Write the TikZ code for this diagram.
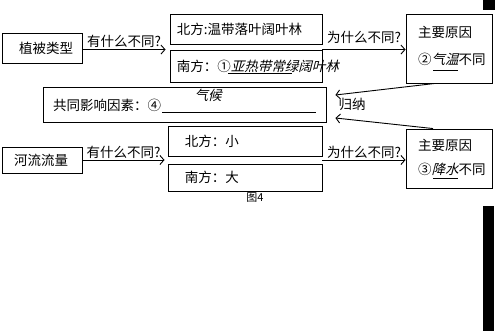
\documentclass[tikz,border=0pt]{standalone}
\usepackage{fontspec}
\setmainfont{Noto Sans CJK SC}
\newfontfamily\slfont[FakeSlant=0.25]{Noto Sans CJK SC}
\usetikzlibrary{arrows.meta,calc}
\begin{document}
\begin{tikzpicture}[x=1pt,y=-1pt,>={Straight Barb[length=4pt,width=9pt]},
  box/.style={draw,line width=0.9pt,inner sep=0pt},
  txt/.style={inner sep=0pt,font=\fontsize{13.5}{16}\selectfont},
  lbl/.style={txt,above=1pt}]
\useasboundingbox (0,0) rectangle (495,331);
% left column
\node[box,minimum width=80pt,minimum height=30pt] (veg) at (42,48) {};
\node[txt] (vegt) at (46,48) {植被类型};
\node[box,minimum width=80pt,minimum height=26pt] (flow) at (42,160) {};
\node[txt] (flowt) at (41,160) {河流流量};
% middle boxes
\node[box,minimum width=152pt,minimum height=30pt] (north1) at (246,29) {};
\node[txt,anchor=west] (north1t) at ([xshift=7pt]north1.west) {北方:温带落叶阔叶林};
\node[box,minimum width=152pt,minimum height=32pt] (south1) at (246,66) {};
\node[txt,anchor=west] (south1t) at ([xshift=7pt]south1.west) {南方：①{\slfont 亚热带常绿阔叶林}};
\node[box,minimum width=154pt,minimum height=30pt] (north2) at (245,141) {};
\node[txt,anchor=west] (north2t) at ([xshift=17pt]north2.west) {北方：小};
\node[box,minimum width=154pt,minimum height=27pt] (south2) at (245,177.5) {};
\node[txt,anchor=west] (south2t) at ([xshift=17pt]south2.west) {南方：大};
% common factor
\node[box,minimum width=283pt,minimum height=35pt] (common) at (184.5,104.5) {};
\node[txt,anchor=west] (commont) at (53,105) {共同影响因素：④};
\node[txt] (climate) at (208,95) {\slfont 气候};
% right boxes
\node[box,minimum width=86pt,minimum height=69pt] (reason1) at (449,48.5) {};
\node[txt,anchor=west] (r1a) at (418,32) {主要原因};
\node[txt,anchor=west] (r1b) at (418,59) {②{\slfont 气温}不同};
\node[box,minimum width=86pt,minimum height=59pt] (reason2) at (449,158.5) {};
\node[txt,anchor=west] (r2a) at (418,145) {主要原因};
\node[txt,anchor=west] (r2b) at (418,169) {③{\slfont 降水}不同};
% underlines
\draw[line width=0.8pt] (228,73) -- (292,73);
\draw[line width=0.8pt] (162,112) -- (316,112);
\draw[line width=0.8pt] (433,70) -- (458,70);
\draw[line width=0.8pt] (433,178) -- (458,178);
% arrows
\draw[->,line width=0.9pt] (veg.east |- south1.north) -- ([xshift=-4pt]south1.north west)
  node[lbl,midway] {有什么不同?};
\draw[->,line width=0.9pt] (south1.north east) -- (reason1.west |- south1.north)
  node[txt,above=5pt,midway] {为什么不同?};
\draw[->,line width=0.9pt] (flow.east) -- ([xshift=-3pt]flow.east -| north2.west)
  node[lbl,midway] {有什么不同?};
\draw[->,line width=0.9pt] (flow.east -| south2.east) -- (flow.east -| reason2.west)
  node[lbl,midway] {为什么不同?};
\draw[->,line width=0.9pt] ([xshift=-14pt]reason1.south) -- ([xshift=9pt,yshift=9.5pt]common.east);
\draw[->,line width=0.9pt] ([xshift=-16pt]reason2.north) -- ([xshift=9pt,yshift=-13.5pt]common.east);
\node[txt,anchor=west] (sum) at ([xshift=12pt]common.east) {归纳};
\node[txt,font=\fontsize{11}{13}\selectfont] (cap) at (255,198) {图4};
% black edges
\fill (483,0) rectangle (495,10);
\fill (483,206) rectangle (494,331);
\end{tikzpicture}
\end{document}
